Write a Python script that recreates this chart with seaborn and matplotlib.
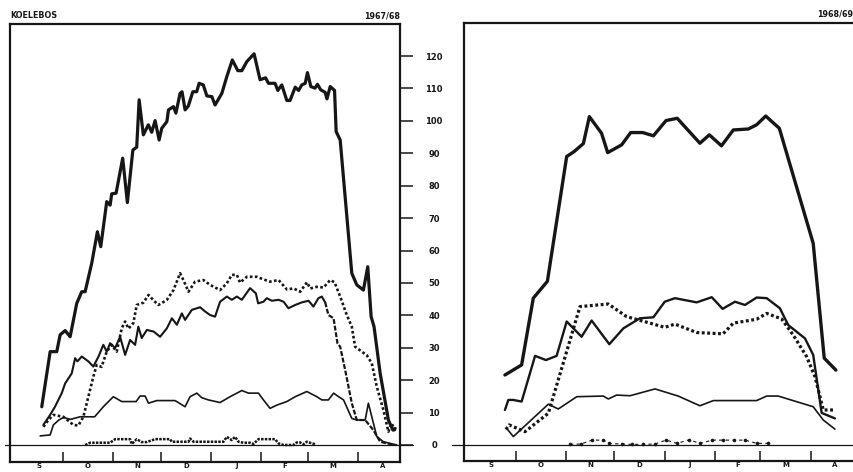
import numpy as np
import pandas as pd
import matplotlib
matplotlib.use("Agg")
import matplotlib.pyplot as plt
import seaborn as sns

# ---------------- data (x = days since 1 September) ----------------
MONTHS = ["S", "O", "N", "D", "J", "F", "M", "A"]
YTICKS = [0, 10, 20, 30, 40, 50, 60, 70, 80, 90, 100, 110, 120]
YTICK_LABELS = ["0", "10", "20", "30", "40", "50", "60", "70", "80", "90", "100", "110", "120"]
MONTH_STARTS_6768 = [30, 61, 91, 122, 153, 182, 213]
MONTH_MIDS_6768 = [15, 45.5, 76, 106.5, 137.5, 167.5, 197.5, 228]
MONTH_STARTS_6869 = [30, 61, 91, 122, 153, 181, 212]
MONTH_MIDS_6869 = [15, 45.5, 76, 106.5, 137.5, 167, 196.5, 227]

# 1967/68 (left panel)
l_thick_x = [16.8, 22, 26.1, 28.2, 31.3, 34.4, 38.5, 41.6, 43.7, 47.8, 51.3, 53.4, 57.1, 59.2, 60.2,
             62.9, 67, 69.9, 73.3, 75.7, 77.2, 79.8, 82.9, 85, 87.1, 89.6, 91.2, 94.4, 95.4, 98.5,
             100, 102.6, 103.8, 105.7, 107.7, 110.5, 112.9, 114.4, 117, 119.2, 122.3, 124.3, 128.5,
             131.6, 135, 138.4, 140.9, 144, 148.5, 152.2, 155.6, 157.4, 161.5, 163.2, 165.7, 168.8,
             170.8, 174, 176.1, 178.1, 180.2, 181.6, 183.7, 186.3, 187.8, 189.8, 192.6, 193.7, 195.7,
             198.4, 199.4, 201.9, 209.1, 212.2, 216.3, 219, 221.1, 222.9, 226.7, 229.8, 231.8, 234.6, 236]
l_thick_y = [11.8, 28.8, 28.8, 34, 35.3, 33.4, 43.7, 47.3, 47.3, 56.1, 65.8, 61.2, 75.1, 74, 77.5,
             77.7, 88.5, 74.8, 91, 91.9, 106.5, 95.7, 98.8, 96.5, 100.1, 94.1, 97.7, 99.8, 103.4, 104.4,
             102.4, 108.5, 109, 103.4, 104.6, 109, 109, 111.6, 111.1, 107.7, 107.5, 104.9, 108.5,
             113.7, 118.8, 115.5, 115.5, 118.3, 120.7, 112.7, 113.3, 111.6, 111.6, 109.4, 111.1, 106.3,
             106.3, 110.4, 109.4, 111.1, 111.6, 114.9, 110.6, 110.1, 111.3, 109.6, 108.8, 106.8, 110.6,
             109.4, 96.7, 94.1, 53, 49.4, 47.8, 55, 39.6, 36.5, 22.1, 13.4, 7.7, 4.6, 5.1]

l_dot_x = [17.8, 20.9, 24, 30.2, 36.4, 39.5, 42.6, 45.7, 48.8, 50.9, 53.9, 57.1, 60.2, 63.3, 66.4,
           68.5, 70.6, 73.6, 75.7, 79.8, 83, 86, 89.1, 94.3, 98.5, 102.6, 105, 107.8, 111.9, 117.1,
           121.2, 127.4, 131.6, 134.7, 137.8, 139.8, 144, 150.2, 154.3, 158.5, 163.7, 168.8, 173,
           177.1, 181.3, 183.3, 187.5, 191.6, 195.7, 198.4, 201.9, 206, 209.1, 211.2, 215.3, 218.4,
           221.5, 224.6, 228.7, 231.8, 233.9, 236.4]
l_dot_y = [5.6, 7.7, 9.3, 8.7, 6.2, 6, 8.7, 14.9, 21.1, 24.7, 24.1, 28.8, 30.9, 28.8, 36,
           38.1, 35.9, 37.6, 43.2, 43.9, 46.3, 44.7, 43.2, 44.7, 47.8, 53, 50.5, 47.3, 50.4, 50.9,
           49.4, 47.8, 49.9, 52.5, 52.5, 50.1, 51.9, 51.9, 51.1, 50.4, 50.9, 48, 48.3,
           47.3, 50.2, 48.3, 48.8, 48.6, 50.9, 50.2, 45.8, 40.1, 36.5, 30.3, 28.8, 27.7,
           25.2, 18, 10.8, 4.1, 6.7, 3.6]

l_mid_x = [17.8, 22, 25, 29.2, 31.3, 35.4, 37.5, 38.9, 41.6, 45.7, 48.8, 52, 55, 57.1, 59.2, 62.3,
           65.4, 68.5, 71.6, 74.7, 76.7, 78.8, 82, 86.2, 90.2, 94.4, 97.5, 100.6, 103.7, 105.7,
           109.9, 115, 118.1, 121.2, 124.3, 127.4, 131.6, 134.7, 137.8, 140.9, 146, 149.6, 151,
           154.3, 156.4, 159.5, 163.7, 166.8, 169.8, 174, 178.1, 182.3, 185.3, 188.4, 190.5, 192.6,
           194.6, 197.8, 200.2, 201.9, 205, 209.1, 212.2, 217.4, 222.5, 226.7, 230.9, 236]
l_mid_y = [6.2, 9.3, 11.8, 16, 19, 22.1, 26.8, 25.8, 27.3, 25.8, 24.2, 27.3, 30.9, 28.8, 31.4, 29.9,
           33.4, 27.8, 32.4, 30.9, 36.5, 33, 35.5, 35, 33.4, 36, 39.1, 37.1, 40.6, 38.6,
           41.7, 42.5, 41.2, 40.1, 39.6, 44.2, 45.8, 44.8, 45.8, 44.8, 48.4, 46.8, 43.7,
           44.2, 45.3, 44.5, 44.8, 44.2, 42.2, 43.2, 44, 44.5, 42.7, 45.3, 45.8, 44,
           40.1, 39.1, 31.4, 30.3, 23.1, 12.9, 7.7, 7.7, 4.6, 1, 0.5, 0]

l_thin_x = [15.8, 22, 24, 27.4, 30.2, 34.6, 40.6, 49.6, 55, 61.2, 66.4, 75.3, 77.8, 80.9, 83, 88.1,
            99.5, 105.7, 108.8, 113, 116, 120.2, 127.4, 133.6, 140.9, 145, 151.2, 154.3, 158.4,
            162.6, 168.8, 174, 181.2, 187.4, 190.5, 194.6, 197.8, 200.9, 204, 209.1, 212.2, 217.4,
            219.4, 221.5, 224.6, 228.7, 232.8, 237]
l_thin_y = [2.8, 3.1, 6.2, 7.7, 8.5, 7.9, 8.7, 8.7, 11.8, 14.9, 13.4, 13.4, 15.1, 15.1, 12.9, 13.7,
            13.7, 11.8, 14.9, 16, 14.6, 13.9, 13.1, 14.9, 16.8, 16, 16, 13.9, 11.3,
            12.3, 13.4, 14.9, 16.5, 14.9, 13.9, 13.9, 16, 14.9, 13.9, 8.2, 7.7, 7.7,
            12.9, 8.7, 2.6, 1, 0.5, 0]

l_low_x = [43.7, 46.8, 53, 59.2, 62.3, 71.6, 72.6, 75.7, 78.8, 81.9, 87.1, 96.4, 97.4, 107.8, 108.8,
           110.9, 129.5, 131.6, 134.6, 136.7, 138.8, 141.9, 146, 148.1, 151.2, 161.5, 163.6, 166.7,
           172.9, 175, 177, 179.1, 181.2, 186.4]
l_low_y = [0, 0.7, 0.7, 0.7, 1.8, 1.8, 0.3, 1.8, 0.9, 0.9, 1.8, 1.8, 1.0, 1.0, 2.0,
           1.0, 1.0, 2.5, 1.5, 2.5, 1.0, 0.7, 0.7, 0.3, 1.8, 1.8, 0.5, 0,
           0, 0.8, 0.8, 0.2, 1.0, 0.2]

# 1968/69 (right panel)
r_thick_x = [23.4, 33.7, 40.9, 46.1, 49.6, 61.5, 66, 71.8, 75.5, 83, 86.8, 95.4, 101, 108.4, 115,
             122.8, 129.7, 143.7, 149.5, 157, 164.3, 173.6, 178.7, 184.3, 192.7, 213.6, 220.4, 227.6]
r_thick_y = [21.6, 24.7, 45.3, 48.4, 50.5, 89, 90.5, 93, 101.3, 96.2, 90.2, 92.6, 96.4, 96.4, 95.4,
             100.1, 100.8, 93.1, 95.7, 92.3, 97.2, 97.5, 98.8, 101.5, 97.7, 62.2, 26.8, 23.1]

r_mid_x = [23.4, 25.5, 28.5, 33.7, 42, 48.7, 55.3, 61.5, 70.7, 76.9, 87.8, 96.5, 106.7, 115, 122,
           128.3, 141.7, 151, 157.7, 165.3, 171.5, 178.7, 184.9, 193, 198.2, 208.5, 213.6, 218.8, 227]
r_mid_y = [10.8, 13.9, 13.9, 13.4, 27.5, 26.2, 27.5, 38.1, 33.4, 38.4, 31.1, 36, 39.1, 39.4, 44.2,
           45.3, 44, 45.6, 42, 44.2, 43.2, 45.5, 45.3, 42.2, 37, 32.9, 27.8, 9.9, 8.2]

r_dot_x = [24, 26, 35.8, 50.2, 69.7, 87.2, 98.5, 112.9, 122, 128.3, 141.7, 158, 164.3, 178.7,
           184.9, 194.1, 201.3, 209.5, 214.7, 219.8, 227]
r_dot_y = [4.8, 6.2, 4.1, 9.8, 42.7, 43.5, 39.6, 37.6, 36.3, 37.3, 34.7, 34.3, 37.6, 38.8,
           40.6, 38.9, 33.9, 27.3, 21.1, 10.8, 10.8]

r_thin_x = [24.5, 28.6, 50.2, 56.3, 67.7, 84.1, 87.2, 92.3, 100.6, 116, 130.3, 143.7, 152, 178.7,
            184.9, 192, 213.6, 219.8, 227]
r_thin_y = [5.1, 2.6, 12.6, 11.1, 14.9, 15.1, 14.2, 15.4, 15.2, 17.3, 15.1, 12.1, 13.7, 13.7,
            15.1, 15.1, 11.8, 7.7, 4.9]

r_low_x = [63.5, 70.1, 77.3, 84.1, 87.8, 95.4, 101.6, 108.8, 116, 122.8, 129.7, 137.1, 143.7,
           151.3, 158.1, 164.7, 171.5, 178.7, 185.9]
r_low_y = [0.2, 0.3, 1.5, 1.5, 0.5, 0.3, 0.2, 0.2, 0.3, 1.5, 0.5, 1.6, 0.5,
           1.5, 1.5, 1.5, 1.5, 0.5, 0.5]

MID_DASH_FROM = 192.6  # left medium series drawn dashed from here on

# ---------------- styling ----------------
sns.set_theme(style="white")
plt.rcParams["font.family"] = ["DejaVu Sans"]
INK = "#161616"

fig = plt.figure(figsize=(8.54, 4.72), dpi=100)
fig.patch.set_facecolor("white")
axL = fig.add_axes([10 / 854, 10 / 472, 390 / 854, 438 / 472])
axR = fig.add_axes([464 / 854, 11 / 472, 392 / 854, 438 / 472])


def draw(ax, x, y, lw, ls="-", **kw):
    sns.lineplot(x=np.asarray(x, float), y=np.asarray(y, float), ax=ax, color=INK,
                 linewidth=lw, linestyle=ls, estimator=None, sort=False,
                 legend=False, **kw)


DOT = (0, (1.0, 0.9))

# left panel
draw(axL, l_thick_x, l_thick_y, 2.3)
draw(axL, l_dot_x, l_dot_y, 1.9, DOT)
mx = np.asarray(l_mid_x)
my = np.asarray(l_mid_y)
sel1 = mx <= MID_DASH_FROM
sel2 = mx >= MID_DASH_FROM
draw(axL, mx[sel1], my[sel1], 1.5)
draw(axL, mx[sel2], my[sel2], 1.6, (0, (2.2, 0.8)))
draw(axL, l_thin_x, l_thin_y, 1.2)
draw(axL, l_low_x, l_low_y, 1.8, (0, (1.0, 0.5)))

# right panel
draw(axR, r_thick_x, r_thick_y, 2.4)
draw(axR, r_mid_x, r_mid_y, 1.7)
draw(axR, r_dot_x, r_dot_y, 2.3, (0, (0.9, 0.8)))
draw(axR, r_thin_x, r_thin_y, 1.2)
draw(axR, r_low_x, r_low_y, 0.8, (0, (3, 3)), marker="o", markersize=2.6,
     markeredgewidth=0)

axL.axhline(0, xmin=-0.013, xmax=1.033, clip_on=False, lw=0.9, color=INK)
axR.axhline(0, xmin=-0.031, xmax=1.0, clip_on=False, lw=0.9, color=INK)

for ax in (axL, axR):
    ax.set_facecolor("white")
    for s in ax.spines.values():
        s.set_linewidth(1.6)
        s.set_color(INK)
    ax.set_yticks(YTICKS)
    ax.set_xlabel("")
    ax.set_ylabel("")

axL.set_xlim(-2.9, 239)
axL.set_ylim(-5.25, 129.9)
axR.set_xlim(-1.85, 240)
axR.set_ylim(-4.94, 130.2)

# y ticks: left panel ticks on its right edge, labels sit between the panels
axL.yaxis.tick_right()
axL.tick_params(axis="y", which="major", direction="out", length=9, width=1.1,
                color=INK, labelright=False, labelleft=False)
axR.tick_params(axis="y", which="major", direction="out", length=8.5, width=1.1,
                color=INK, pad=13, labelsize=6, labelcolor=INK)
axR.set_yticklabels(YTICK_LABELS)
for t in axR.get_yticklabels():
    t.set_ha("center")
    t.set_fontweight("bold")

# x ticks: month boundaries inside, month letters centred
for ax, starts, mids in ((axL, MONTH_STARTS_6768, MONTH_MIDS_6768),
                         (axR, MONTH_STARTS_6869, MONTH_MIDS_6869)):
    ax.set_xticks(starts)
    ax.set_xticklabels([])
    ax.set_xticks(mids, minor=True)
    ax.set_xticklabels(MONTHS, minor=True, fontsize=5, fontweight="bold", color=INK)
    ax.tick_params(axis="x", which="major", direction="in", length=7, width=1.1,
                   color=INK, bottom=True)
    ax.tick_params(axis="x", which="minor", length=0, pad=0.8, bottom=True)

axL.text(0.0, 1.009, "KOELEBOS", transform=axL.transAxes, ha="left", va="bottom",
         fontsize=5.8, fontweight="bold", color=INK)
axL.text(1.0, 1.009, "1967/68", transform=axL.transAxes, ha="right", va="bottom",
         fontsize=5.8, fontweight="bold", color=INK)
axR.text(0.90, 1.011, "1968/69", transform=axR.transAxes, ha="left", va="bottom",
         fontsize=5.8, fontweight="bold", color=INK)

fig.savefig("out.png", dpi=100, facecolor="white")
